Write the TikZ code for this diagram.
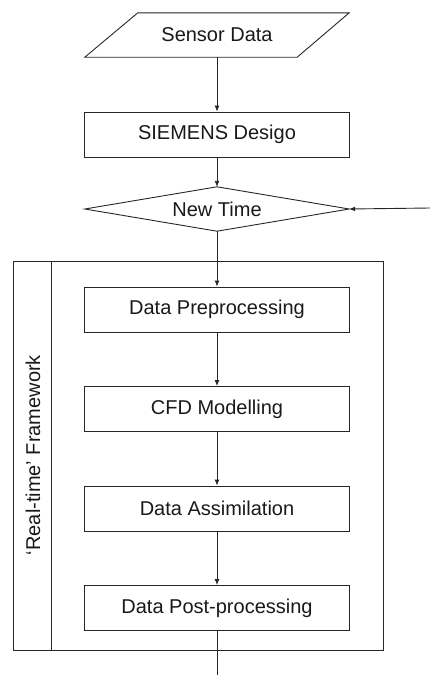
\documentclass[tikz,border=0pt]{standalone}
\usepackage{fontspec}
\setmainfont{Liberation Sans}
\usetikzlibrary{arrows.meta}
\begin{document}
\begin{tikzpicture}[x=1pt,y=-1pt,
  line/.style={draw=black!85,line width=0.9pt},
  arr/.style={line,-{Latex[length=6pt,width=5pt]}},
  txt/.style={inner sep=0pt,text=black!90,font=\fontsize{20}{24}\selectfont},
  hidden/.style={txt,minimum width=264pt,minimum height=44pt},
  boxnode/.style={txt,line,minimum width=265pt,minimum height=45pt}]
\useasboundingbox (0,0) rectangle (432,675);
% Sensor data (parallelogram)
\node[hidden] (sensor) at (217,35) {Sensor Data};
\draw[line] ([xshift=53pt]sensor.north west) -- (sensor.north east)
  -- ([xshift=-52pt]sensor.south east) -- (sensor.south west) -- cycle;
% Siemens box
\node[boxnode] (siemens) at (217,134.5) {SIEMENS Desigo};
% New time decision
\node[hidden] (newtime) at (217,209) {New Time};
\draw[line] (newtime.west) -- (newtime.north) -- (newtime.east) -- (newtime.south) -- cycle;
% Framework frame
\node[line,minimum width=370pt,minimum height=389pt,inner sep=0pt] (frame) at (198,455.5) {};
\draw[line] ([xshift=39pt]frame.north west) -- ([xshift=39pt]frame.south west);
\node[txt,rotate=90] (fwlabel) at (33,455) {‘Real-time’ Framework};
% Steps
\node[boxnode] (pre) at (217,309.5) {Data Preprocessing};
\node[boxnode] (cfd) at (217,409) {CFD Modelling};
\node[boxnode] (da) at (217,508.5) {Data Assimilation};
\node[boxnode] (post) at (217,608) {Data Post-processing};
% Connectors
\coordinate (loopin) at (430,208);
\coordinate (outend) at (217,676);
\draw[arr] (sensor.south) -- (siemens.north);
\draw[arr] (siemens.south) -- (newtime.north);
\draw[arr] (loopin) -- (newtime.east);
\draw[arr] (newtime.south) -- (pre.north);
\draw[arr] (pre.south) -- (cfd.north);
\draw[arr] (cfd.south) -- (da.north);
\draw[arr] (da.south) -- (post.north);
\draw[line] (post.south) -- (outend);
\end{tikzpicture}
\end{document}
